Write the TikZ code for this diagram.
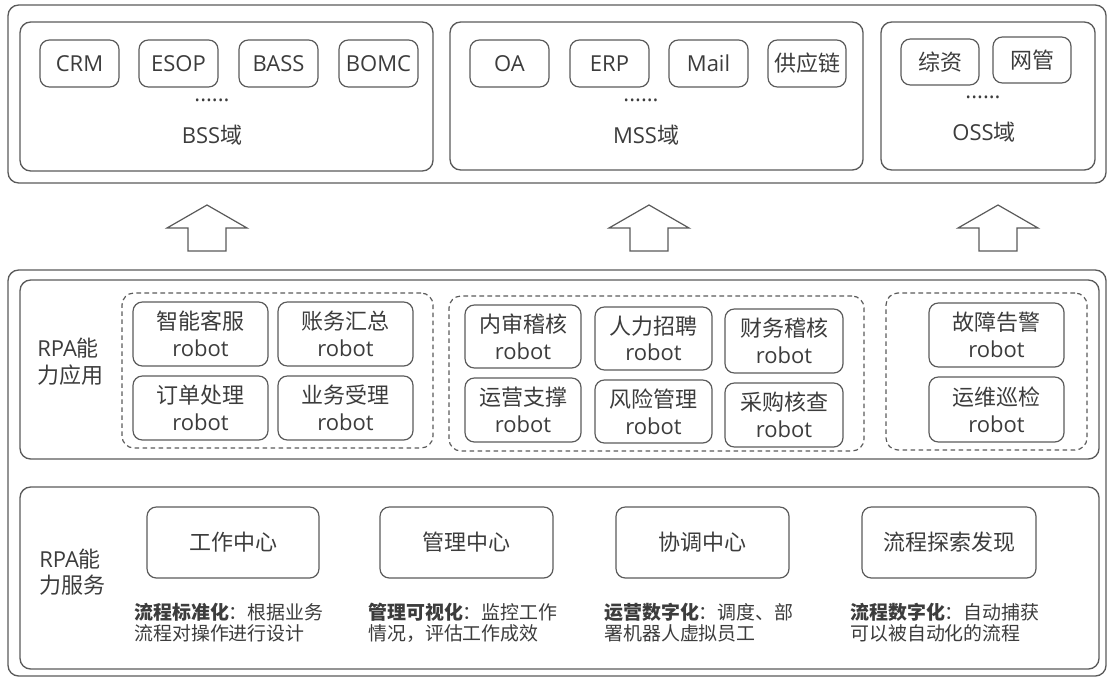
\documentclass[tikz,border=0pt]{standalone}
\usepackage{fontspec}
\setmainfont{Open Sans}
\newfontfamily\cjk{Noto Sans CJK SC}
\definecolor{ln}{HTML}{5A5A5A}
\definecolor{tx}{HTML}{3C3C3C}
\newcommand\C[1]{{\cjk #1}}
% \bx[style]{name}{x1}{y1}{x2}{y2}{text}
\newcommand\bx[7][sbox]{\node[#1, minimum width={(#5-#3)*0.75pt}, minimum height={(#6-#4)*0.75pt}]
   (#2) at ({(#3+#5)/2},{(#4+#6)/2}) {#7};}
\begin{document}
\begin{tikzpicture}[x=0.75pt,y=-0.75pt,
  every node/.style={text=tx},
  bigbox/.style={draw=ln, line width=1pt, rounded corners=8pt, inner sep=0pt},
  sbox/.style={draw=ln, line width=0.9pt, rounded corners=7pt, inner sep=0pt, align=center,
     font=\fontsize{16.5}{20}\selectfont},
  grp/.style={draw=ln, line width=0.9pt, dash pattern=on 3.5pt off 2.5pt, rounded corners=9pt, inner sep=0pt},
  lbl/.style={font=\fontsize{16.5}{20}\selectfont, align=left, anchor=west, inner sep=0pt},
  desc/.style={font=\fontsize{14.2}{15.8}\selectfont, align=left, anchor=west, inner sep=0pt},
  dots/.style={font=\fontsize{16.5}{20}\selectfont, anchor=base, inner sep=0pt},
  dom/.style={font=\fontsize{16.5}{20}\selectfont, inner sep=0pt},
  uparrow/.style={draw=ln, line width=0.9pt, fill=white}
]
\useasboundingbox (0,0) rectangle (1112,678);

% ---------- top layer ----------
\bx[bigbox]{top}{8}{5}{1106}{183}{}
\bx[bigbox]{bss}{20}{22}{433}{171}{}
\bx[bigbox]{mss}{450}{22}{863}{170}{}
\bx[bigbox]{oss}{881}{22}{1095}{170}{}

\bx{crm}{40}{40}{119}{87}{CRM}
\bx{esop}{139}{40}{218}{87}{ESOP}
\bx{bass}{239}{40}{318}{87}{BASS}
\bx{bomc}{339}{40}{418}{87}{BOMC}
\node[dots] (bssdots) at (212,101) {......};
\node[dom] (bsslbl) at (212,135) {BSS\C{域}};

\bx{oa}{470}{40}{549}{87}{OA}
\bx{erp}{570}{40}{649}{87}{ERP}
\bx{mail}{669}{40}{748}{87}{Mail}
\bx{scm}{768}{40}{846}{87}{\C{供应链}}
\node[dots] (mssdots) at (641,101) {......};
\node[dom] (msslbl) at (646,135) {MSS\C{域}};

\bx{zz}{901}{39}{979}{85}{\C{综资}}
\bx{wg}{993}{37}{1071}{83}{\C{网管}}
\node[dots] (ossdots) at (983,98) {......};
\node[dom] (osslbl) at (984,132) {OSS\C{域}};

% ---------- arrows ----------
\foreach \cx/\nm in {207/a1,649/a2,998/a3}{
  \draw[uparrow] (\cx,205) coordinate (\nm) -- ++(40,23) -- ++(-21,0) -- ++(0,23) -- ++(-38,0)
     -- ++(0,-23) -- ++(-21,0) -- cycle;
}

% ---------- RPA layer ----------
\bx[bigbox]{rpa}{8}{270}{1106}{676}{}
\bx[bigbox]{app}{20}{280}{1099}{459}{}
\bx[bigbox]{svc}{20}{487}{1099}{669}{}

\node[lbl] (applbl) at (37,362) {RPA\C{能}\\\C{力应用}};
\node[lbl] (svclbl) at (39,572) {RPA\C{能}\\\C{力服务}};

\bx[grp]{g1}{122}{293}{433}{448}{}
\bx{r1}{133}{302}{268}{366}{\C{智能客服}\\robot}
\bx{r2}{278}{302}{413}{366}{\C{账务汇总}\\robot}
\bx{r3}{133}{376}{268}{440}{\C{订单处理}\\robot}
\bx{r4}{278}{376}{413}{440}{\C{业务受理}\\robot}

\bx[grp]{g2}{449}{296}{864}{451}{}
\bx{r5}{465}{305}{581}{368}{\C{内审稽核}\\robot}
\bx{r6}{595}{307}{712}{370}{\C{人力招聘}\\robot}
\bx{r7}{725}{309}{843}{373}{\C{财务稽核}\\robot}
\bx{r8}{465}{378}{581}{442}{\C{运营支撑}\\robot}
\bx{r9}{595}{380}{712}{443}{\C{风险管理}\\robot}
\bx{r10}{725}{383}{843}{447}{\C{采购核查}\\robot}

\bx[grp]{g3}{886}{293}{1087}{450}{}
\bx{r11}{929}{303}{1064}{367}{\C{故障告警}\\robot}
\bx{r12}{929}{377}{1064}{442}{\C{运维巡检}\\robot}

\bx{c1}{147}{507}{319}{578}{\C{工作中心}}
\bx{c2}{380}{507}{553}{578}{\C{管理中心}}
\bx{c3}{616}{507}{789}{578}{\C{协调中心}}
\bx{c4}{862}{507}{1036}{578}{\C{流程探索发现}}

\node[desc] (d1) at (134,623) {\C{\textbf{流程标准化}：根据业务}\\\C{流程对操作进行设计}};
\node[desc] (d2) at (368,623) {\C{\textbf{管理可视化}：监控工作}\\\C{情况，评估工作成效}};
\node[desc] (d3) at (604,623) {\C{\textbf{运营数字化}：调度、部}\\\C{署机器人虚拟员工}};
\node[desc] (d4) at (850,623) {\C{\textbf{流程数字化}：自动捕获}\\\C{可以被自动化的流程}};
\end{tikzpicture}
\end{document}
